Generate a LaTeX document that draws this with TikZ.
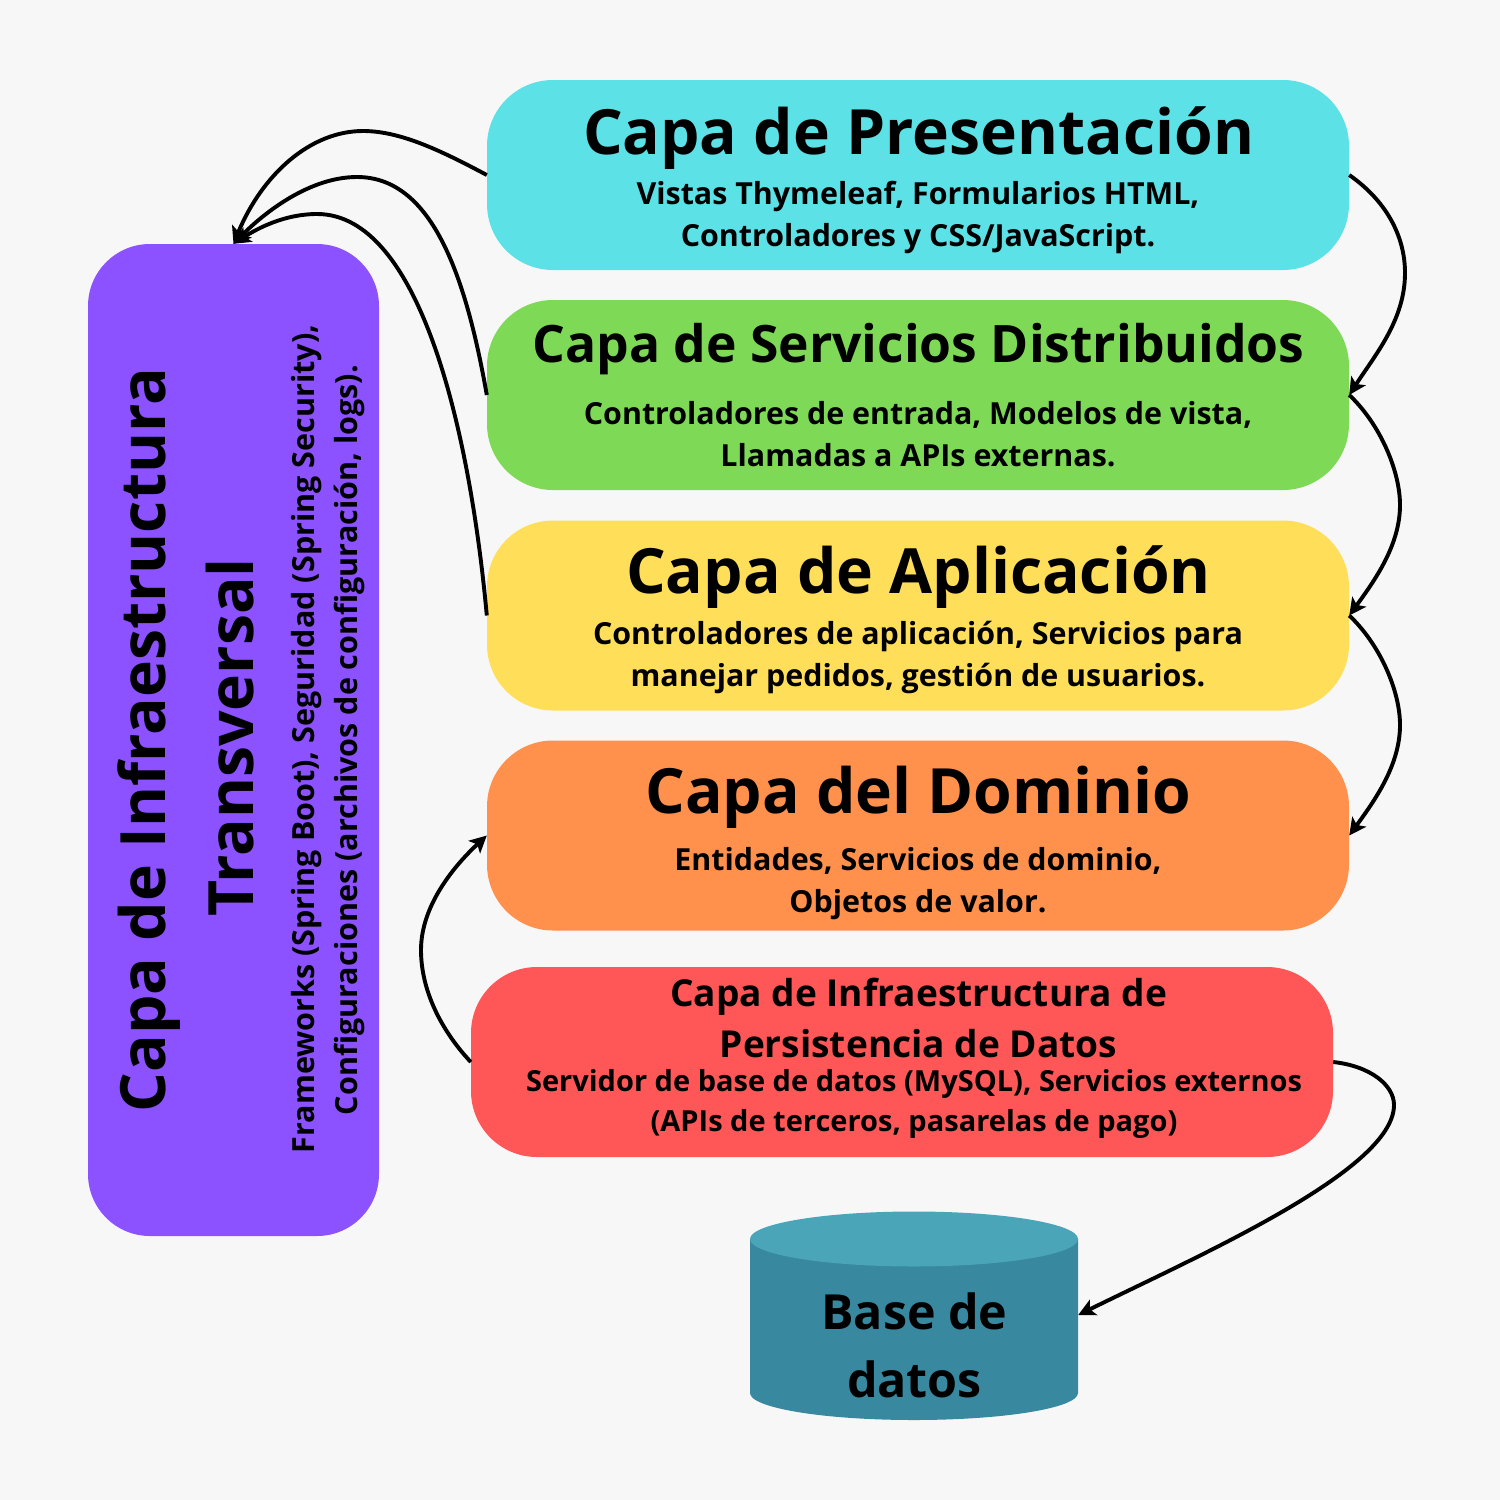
\documentclass[tikz,border=0pt]{standalone}
\usepackage{fontspec}
\setmainfont{Open Sans}
\usetikzlibrary{arrows.meta}
\definecolor{bgc}{HTML}{F7F7F7}
\definecolor{cCyan}{HTML}{5CE1E6}
\definecolor{cGreen}{HTML}{7ED957}
\definecolor{cYellow}{HTML}{FFDE59}
\definecolor{cOrange}{HTML}{FF914D}
\definecolor{cRed}{HTML}{FF5757}
\definecolor{cPurple}{HTML}{8C52FF}
\definecolor{cBody}{HTML}{38889F}
\definecolor{cTop}{HTML}{4AA5B9}
\newcommand{\fsz}[1]{\fontsize{#1}{#1}\selectfont\bfseries}
\tikzset{
  layerbox/.style={minimum width=862pt,minimum height=190pt,inner sep=0pt,rounded corners=66pt,draw=none},
  txt/.style={inner sep=0pt,anchor=base,text=black},
  big/.style={txt,font=\fsz{62.4}},
  subt/.style={txt,font=\fsz{30.4}},
  vbig/.style={txt,font=\fsz{62.5},rotate=90},
  vsub/.style={txt,font=\fsz{30.5},rotate=90},
  link/.style={line width=3.9pt,black,-{Stealth[length=17pt,width=17pt,inset=4pt]}},
}
\begin{document}
\begin{tikzpicture}[x=1pt,y=-1pt]
\fill[bgc] (0,0) rectangle (1500,1500);
\useasboundingbox (0,0) rectangle (1500,1500);

\node[layerbox,fill=cCyan] (pres) at (918,175) {};
\node[layerbox,fill=cGreen] (serv) at (918,395) {};
\node[layerbox,fill=cYellow] (apl) at (918,615.5) {};
\node[layerbox,fill=cOrange] (dom) at (918,835.5) {};
\node[layerbox,fill=cRed] (pers) at (902,1062) {};
\node[minimum width=291pt,minimum height=992pt,inner sep=0pt,rounded corners=62pt,fill=cPurple] (infra) at (233.5,740) {};

% database cylinder
\fill[cBody] (750,1239) -- (750,1393) arc[start angle=180,end angle=360,x radius=164,y radius=-27] -- (1078,1239) -- cycle;
\fill[cTop] (914,1239) ellipse[x radius=164,y radius=27.5];
\node[minimum width=328pt,minimum height=150pt,inner sep=0pt] (db) at (914,1315) {};

\node[big] (t1) at (918.5,154) {Capa de Presentación};
\node[subt] (s1a) at (918,204) {Vistas Thymeleaf, Formularios HTML,};
\node[subt] (s1b) at (918,246) {Controladores y CSS/JavaScript.};

\node[txt,font=\fsz{51.6}] (t2) at (918.5,362) {Capa de Servicios Distribuidos};
\node[subt] (s2a) at (918,424) {Controladores de entrada, Modelos de vista,};
\node[subt] (s2b) at (918,466) {Llamadas a APIs externas.};

\node[big] (t3) at (918.5,593.5) {Capa de Aplicación};
\node[subt] (s3a) at (918,644) {Controladores de aplicación, Servicios para};
\node[subt] (s3b) at (918,686) {manejar pedidos, gestión de usuarios.};

\node[big] (t4) at (918.5,813.5) {Capa del Dominio};
\node[subt] (s4a) at (918,870) {Entidades, Servicios de dominio,};
\node[subt] (s4b) at (918,912) {Objetos de valor.};

\node[txt,font=\fsz{37.1}] (t5a) at (918.5,1006) {Capa de Infraestructura de};
\node[txt,font=\fsz{37.1}] (t5b) at (918.5,1057) {Persistencia de Datos};
\node[txt,font=\fsz{29}] (s5a) at (914,1091) {Servidor de base de datos (MySQL), Servicios externos};
\node[txt,font=\fsz{29}] (s5b) at (914,1131) {(APIs de terceros, pasarelas de pago)};

\node[txt,font=\fsz{48.4}] (d1) at (914.5,1329) {Base de};
\node[txt,font=\fsz{48.4}] (d2) at (914.5,1397) {datos};

\node[vbig] (v1) at (165,740) {Capa de Infraestructura};
\node[txt,font=\fsz{62.5},rotate=90] (v2) at (253,737.5) {Transversal};
\node[vsub] (v3) at (314,739) {Frameworks (Spring Boot), Seguridad (Spring Security),};
\node[vsub] (v4) at (357,740) {Configuraciones (archivos de configuración, logs).};

% connectors
\draw[link] (pres.west) .. controls +(-47,-25) and (400,131) .. (363,131) .. controls (310,131) and (262,175) .. (infra.north);
\draw[link] (serv.west) .. controls +(-22,-125) and (430,177) .. (357,177) .. controls (310,177) and (265,212) .. (infra.north);
\draw[link] (apl.west) .. controls +(-17,-185) and (420,214) .. (317,214) .. controls (285,214) and (258,228) .. (infra.north);

\draw[link] (pres.east) .. controls +(36,25) and (1405,235) .. (1405,273) .. controls (1405,320) and (1375,355) .. (serv.east);
\draw[link] (serv.east) .. controls +(30,28) and (1400,470) .. (1400,505) .. controls (1400,545) and (1375,580) .. (apl.east);
\draw[link] (apl.east) .. controls +(30,28) and (1400,690) .. (1400,725) .. controls (1400,765) and (1375,800) .. (dom.east);
\draw[link] (pers.west) .. controls +(-30,-32) and (421,990) .. (421,950) .. controls (421,905) and (455,865) .. (dom.west);
\draw[link] (pers.east) .. controls +(37,4) and (1394,1085) .. (1394,1105) .. controls (1394,1170) and (1200,1255) .. (db.east);
\end{tikzpicture}
\end{document}
